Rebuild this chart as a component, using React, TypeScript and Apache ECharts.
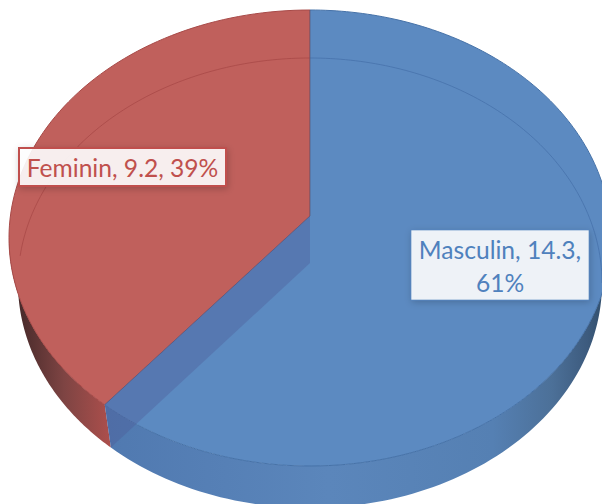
import React, { useEffect, useRef } from "react";
import * as echarts from "echarts";

const categories = ["Feminin", "Masculin"];
const values = [9.2, 14.3];
const topColors = ["#C0605C", "#5C8AC1"];
const textColors = ["#C0504D", "#4F81BD"];
const edgeColors = ["#A84A48", "#4672A8"];

const total = values.reduce((a, b) => a + b, 0);
const TOP = { cx: 310, cy: 238, rx: 301, ry: 228 };
const BOT = { cx: 310, cy: 283, rx: 292, ry: 225 };
const APEX_TOP: [number, number] = [310, 216];
const APEX_BOT: [number, number] = [310, 263];

// Angle measured clockwise from 12 o'clock, on the foreshortened disc; the
// perspective of the 3D view pulls the apparent angle a little.
const warp = (t: number) => t + 0.07 * Math.sin(2 * t);
const pt = (e: typeof TOP, t: number): [number, number] => [
  e.cx + e.rx * Math.sin(t),
  e.cy - e.ry * Math.cos(t),
];
const arc = (e: typeof TOP, a: number, b: number, n = 90) => {
  const out: [number, number][] = [];
  for (let i = 0; i <= n; i++) out.push(pt(e, a + ((b - a) * i) / n));
  return out;
};
const DEG90 = Math.PI / 2;
const TAU = Math.PI * 2;

const hGrad = (stops: [number, string][], x: number, x2: number) => ({
  type: "linear",
  x,
  y: 0,
  x2,
  y2: 0,
  global: true,
  colorStops: stops.map(([offset, color]) => ({ offset, color })),
});

const labelBoxes = [
  { x: 19, y: 148, width: 207, height: 38, border: 2, textDy: 0 },
  { x: 411, y: 230, width: 178, height: 70, border: 0, textDy: 1 },
];

function renderItem(params: any, api: any) {
  const i = params.dataIndex;
  const value = api.value(0);
  const share = values[0] / total;
  // Feminin runs counter-clockwise from 12 o'clock, Masculin takes the rest.
  const boundary = TAU - warp(share * TAU);
  const children: any[] = [];
  const name = categories[i];
  const pct = Math.round((value / total) * 100);
  const box = labelBoxes[i];
  if (i === 0) {
    children.push({
      type: "polygon",
      shape: { points: [...arc(BOT, boundary, TAU - DEG90), ...arc(TOP, TAU - DEG90, boundary)] },
      style: {
        fill: hGrad([[0, "#472A2A"], [0.5, "#7E4443"], [1, "#AC4F4C"]], 18, 110),
      },
    });
    children.push({
      type: "polygon",
      shape: { points: [APEX_TOP, ...arc(TOP, boundary, TAU)] },
      style: { fill: topColors[0], stroke: edgeColors[0], lineWidth: 1 },
    });
    children.push({
      type: "polyline",
      shape: { points: arc(BOT, TAU - 1.45, TAU) },
      style: { fill: "none", stroke: "rgba(165,70,68,0.7)", lineWidth: 1 },
    });
  } else {
    children.push({
      type: "polygon",
      shape: { points: [...arc(BOT, boundary, DEG90), ...arc(TOP, DEG90, boundary)] },
      style: {
        fill: hGrad(
          [[0, "#5079B0"], [0.45, "#5B86BB"], [0.78, "#5580B3"], [0.9, "#4C7098"], [0.97, "#3D5B7E"], [1, "#33506E"]],
          105,
          602
        ),
      },
    });
    children.push({
      type: "polygon",
      shape: { points: [APEX_TOP, ...arc(TOP, 0, boundary)] },
      style: { fill: topColors[1] },
    });
    children.push({
      type: "polyline",
      shape: { points: arc(TOP, DEG90 - 0.2, boundary) },
      style: { fill: "none", stroke: edgeColors[1], lineWidth: 1 },
    });
    children.push({
      type: "polyline",
      shape: { points: arc(TOP, 0, DEG90) },
      style: { fill: "none", stroke: edgeColors[1], lineWidth: 1 },
    });
    children.push({
      type: "polyline",
      shape: { points: arc(BOT, 0, DEG90) },
      style: { fill: "none", stroke: "rgba(70,112,170,0.75)", lineWidth: 1 },
    });
    children.push({
      type: "polygon",
      shape: { points: [APEX_TOP, pt(TOP, boundary), pt(BOT, boundary), APEX_BOT] },
      style: { fill: "rgba(78,88,150,0.36)" },
    });
    children.push({
      type: "line",
      shape: { x1: APEX_TOP[0], y1: TOP.cy - TOP.ry, x2: APEX_TOP[0], y2: APEX_TOP[1] },
      style: { stroke: "rgba(90,90,120,0.7)", lineWidth: 1 },
    });
    children.push({
      type: "line",
      shape: { x1: APEX_TOP[0], y1: APEX_TOP[1], x2: pt(TOP, boundary)[0], y2: pt(TOP, boundary)[1] },
      style: { stroke: "rgba(90,90,130,0.8)", lineWidth: 1 },
    });
  }
  const text = i === 1 ? `${name}, ${value},\n${pct}%` : `${name}, ${value}, ${pct}%`;
  children.push({
    type: "rect",
    z2: 10,
    shape: { x: box.x, y: box.y, width: box.width, height: box.height },
    style: {
      fill: "rgba(255,255,255,0.89)",
      stroke: box.border ? textColors[i] : "rgba(79,129,189,0.6)",
      lineWidth: box.border || 1,
      shadowBlur: 7,
      shadowOffsetX: 1,
      shadowOffsetY: 2,
      shadowColor: "rgba(0,0,0,0.22)",
    },
  });
  children.push({
    type: "text",
    z2: 11,
    x: box.x + box.width / 2,
    y: box.y + box.height / 2 + box.textDy,
    style: {
      text,
      fill: textColors[i],
      font: '24.6px Lato, "Open Sans", sans-serif',
      align: "center",
      verticalAlign: "middle",
      lineHeight: 33,
    },
  });
  return { type: "group", children };
}

export default function App() {
  const ref = useRef<HTMLDivElement>(null);
  useEffect(() => {
    const chart = echarts.init(ref.current!, null, { renderer: "svg" });
    chart.setOption({
      animation: false,
      backgroundColor: "#FFFFFF",
      series: [
        {
          type: "custom",
          coordinateSystem: "none",
          clip: false,
          silent: true,
          renderItem,
          data: categories.map((name, i) => ({ name, value: values[i] })),
        },
      ],
    });
    return () => chart.dispose();
  }, []);
  return (
    <div
      ref={ref}
      style={{ position: "fixed", left: 0, top: 0, width: 602, height: 504, overflow: "hidden" }}
    />
  );
}
